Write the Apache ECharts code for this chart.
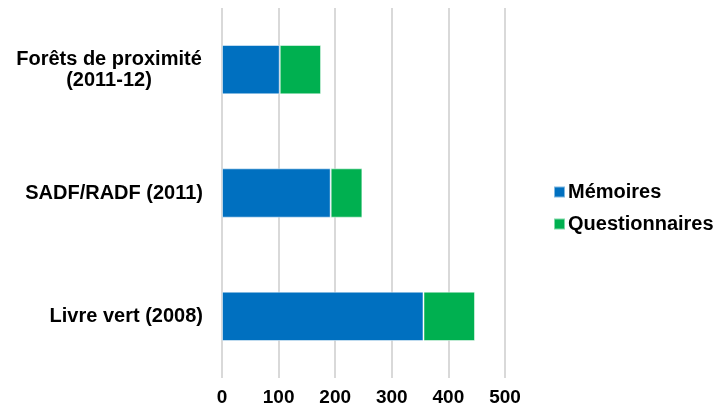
<!DOCTYPE html>
<html>
<head>
<meta charset="utf-8">
<script src="https://cdn.jsdelivr.net/npm/echarts@6/dist/echarts.min.js"></script>
<style>
  html, body { margin: 0; padding: 0; background: #fff; }
  #chart { width: 720px; height: 417px; }
</style>
</head>
<body>
<div id="chart"></div>
<script>
// données
const categories = ['Livre vert (2008)', 'SADF/RADF (2011)', 'Forêts de proximité\n(2011-12)']
const memoires = [356, 192, 102]
const questionnaires = [91, 56, 73]
const xTicks = [0, 100, 200, 300, 400, 500]

const chart = echarts.init(document.getElementById('chart'))

const font = 'Arial, "Liberation Sans", sans-serif'

chart.setOption({
  animation: false,
  textStyle: { fontFamily: font },
  grid: {
    left: 222,
    right: 215,
    top: 8,
    bottom: 39,
    containLabel: false
  },
  legend: {
    orient: 'vertical',
    left: 548,
    top: 177,
    itemWidth: 11,
    itemHeight: 11,
    itemGap: 12,
    icon: 'rect',
    data: ['Mémoires', 'Questionnaires'],
    textStyle: {
      fontSize: 20,
      fontWeight: 'bold',
      color: '#000',
      fontFamily: font,
      padding: [0, 0, 0, -2]
    }
  },
  xAxis: {
    type: 'value',
    min: xTicks[0],
    max: xTicks[xTicks.length - 1],
    interval: 100,
    axisLine: { show: false },
    axisTick: { show: false },
    splitLine: { lineStyle: { color: '#d9d9d9', width: 2 } },
    axisLabel: {
      fontSize: 19,
      fontWeight: 'bold',
      color: '#000',
      margin: 10,
      fontFamily: font
    }
  },
  yAxis: {
    type: 'category',
    data: categories,
    axisLine: { show: false },
    axisTick: { show: false },
    axisLabel: {
      fontSize: 20,
      fontWeight: 'bold',
      color: '#000',
      margin: 19,
      lineHeight: 21,
      fontFamily: font,
      formatter: function (v) {
        if (v.indexOf('\n') < 0) return v
        return v.split('\n').map(function (s) { return '{c|' + s + '}' }).join('\n')
      },
      rich: {
        c: {
          width: 188,
          align: 'center',
          fontSize: 20,
          fontWeight: 'bold',
          lineHeight: 21,
          fontFamily: font,
          color: '#000'
        }
      }
    }
  },
  series: [
    {
      name: 'Mémoires',
      type: 'bar',
      stack: 'total',
      barWidth: '40%',
      itemStyle: { color: '#0070c0', borderColor: 'rgba(255,255,255,0.5)', borderWidth: 1 },
      data: memoires
    },
    {
      name: 'Questionnaires',
      type: 'bar',
      stack: 'total',
      itemStyle: { color: '#00b050', borderColor: 'rgba(255,255,255,0.5)', borderWidth: 1 },
      data: questionnaires
    }
  ]
})
</script>
</body>
</html>
